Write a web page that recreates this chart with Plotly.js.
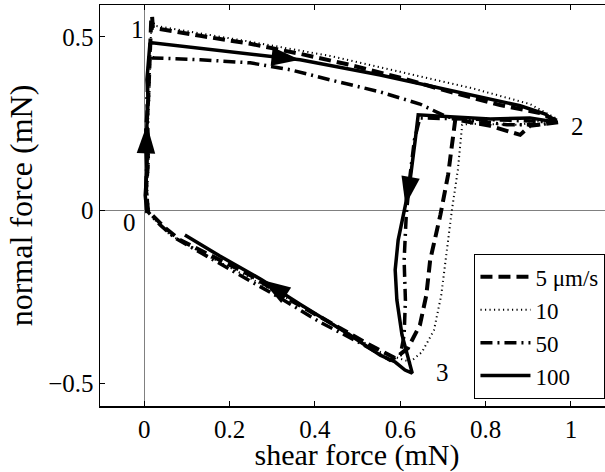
<!DOCTYPE html>
<html>
<head>
<meta charset="utf-8">
<script src="https://cdn.plot.ly/plotly-3.0.1.min.js"></script>
<style>
html,body{margin:0;padding:0;overflow:hidden;background:#fff;}
#plot{width:620px;height:472px;}
</style>
</head>
<body>
<div id="plot"></div>
<script>
// Series names
const seriesNames = ["5 μm/s", "10", "50", "100"];

// 5 um/s (dashed)
const dashX = [0.009,0.004,0.009,0.004,0.009,0.011,0.013,0.016,0.018,0.020,0.131,0.248,0.365,0.482,0.600,0.717,0.834,0.927,0.975,0.904,0.881,0.811,0.729,0.722,0.712,0.694,0.670,0.661,0.646,0.618,0.588,0.529,0.436,0.342,0.248,0.155,0.084,0.049,0.018];
const dashY = [-0.006,0.058,0.145,0.231,0.318,0.405,0.477,0.549,0.561,0.526,0.503,0.480,0.451,0.419,0.382,0.341,0.303,0.280,0.254,0.243,0.217,0.243,0.262,0.202,0.101,-0.014,-0.145,-0.246,-0.332,-0.399,-0.428,-0.390,-0.324,-0.260,-0.188,-0.130,-0.087,-0.052,-0.014];

// 10 um/s (dotted)
const dotX = [0.011,0.007,0.011,0.008,0.012,0.013,0.015,0.018,0.025,0.248,0.435,0.600,0.764,0.904,0.963,0.881,0.764,0.745,0.742,0.735,0.721,0.707,0.696,0.679,0.651,0.623,0.553,0.459,0.365,0.248,0.131,0.060,0.013];
const dotY = [-0.010,0.060,0.150,0.240,0.330,0.420,0.500,0.550,0.532,0.486,0.445,0.399,0.353,0.306,0.266,0.246,0.249,0.246,0.202,0.116,0.0,-0.130,-0.246,-0.347,-0.410,-0.439,-0.410,-0.341,-0.275,-0.197,-0.121,-0.072,-0.014];

// 50 um/s (dash-dot)
const ddX = [0.006,0.004,0.009,0.006,0.011,0.013,0.020,0.131,0.248,0.342,0.435,0.553,0.646,0.709,0.764,0.850,0.927,0.963,0.834,0.646,0.633,0.623,0.614,0.609,0.612,0.609,0.600,0.576,0.506,0.412,0.318,0.225,0.131,0.072,0.037,0.009];
const ddY = [-0.006,0.087,0.202,0.318,0.434,0.460,0.439,0.434,0.425,0.405,0.376,0.341,0.306,0.269,0.260,0.246,0.246,0.254,0.260,0.266,0.202,0.101,-0.014,-0.145,-0.260,-0.361,-0.419,-0.434,-0.384,-0.324,-0.254,-0.188,-0.124,-0.081,-0.043,-0.006];

// 100 um/s (solid)
const solidX = [0.006,0.002,0.006,0.004,0.006,0.009,0.006,0.011,0.013,0.018,0.177,0.365,0.553,0.740,0.881,0.940,0.963,0.904,0.811,0.717,0.642,0.635,0.623,0.612,0.604,0.595,0.588,0.592,0.604,0.618,0.628,0.611,0.588,0.553,0.482,0.365,0.276,0.177,0.095];
const solidY = [-0.009,0.043,0.116,0.173,0.246,0.318,0.376,0.434,0.480,0.483,0.460,0.434,0.390,0.338,0.301,0.277,0.254,0.266,0.263,0.269,0.275,0.202,0.087,0.014,-0.030,-0.087,-0.173,-0.260,-0.361,-0.428,-0.471,-0.462,-0.439,-0.419,-0.361,-0.272,-0.202,-0.133,-0.072];

// indices of solid curve points carrying direction arrows
const arrowIdx = [4, 11, 23, 36];

// point labels
const pointLabels = ["0", "1", "2", "3"];
const pointLabelX = [-0.034, -0.017, 1.015, 0.698];
const pointLabelY = [-0.035, 0.520, 0.240, -0.468];

// ticks
const xTickVals = [0, 0.2, 0.4, 0.6, 0.8, 1];
const xTickText = ["0", "0.2", "0.4", "0.6", "0.8", "1"];
const yTickVals = [-0.5, 0, 0.5];
const yTickText = ["\u22120.5", "0", "0.5"];

const FONT = "Liberation Serif, Times New Roman, serif";

const traces = [
  {x: dashX, y: dashY, name: seriesNames[0], mode: "lines",
   line: {color: "black", width: 4, dash: "12px,6px"}},
  {x: dotX, y: dotY, name: seriesNames[1], mode: "lines",
   line: {color: "black", width: 2, dash: "1.2px,3.3px"}},
  {x: ddX, y: ddY, name: seriesNames[2], mode: "lines",
   line: {color: "black", width: 3.5, dash: "12px,5px,2px,5px"}},
  {x: solidX, y: solidY, name: seriesNames[3], mode: "lines",
   line: {color: "black", width: 3.5}},
  {x: solidX, y: solidY, mode: "markers", showlegend: false, hoverinfo: "skip",
   marker: {symbol: "arrow", angleref: "previous", color: "black", opacity: 1,
            size: solidX.map((_, i) => arrowIdx.includes(i) ? 30 : 0),
            line: {width: 0}}}
];

const annotations = pointLabels.map((t, i) => ({
  x: pointLabelX[i], y: pointLabelY[i], xref: "x", yref: "y",
  text: t, showarrow: false, font: {family: FONT, size: 25, color: "black"}
}));

const layout = {
  width: 620, height: 472,
  margin: {l: 100, r: 6, t: 5, b: 66},
  paper_bgcolor: "white", plot_bgcolor: "white",
  font: {family: FONT, color: "black", size: 25},
  showlegend: true,
  legend: {x: 0.983, y: 0.017, xanchor: "right", yanchor: "bottom",
           bgcolor: "white", bordercolor: "black", borderwidth: 1.2,
           itemwidth: 50,
           font: {family: FONT, size: 23, color: "black"}, tracegroupgap: 0},
  xaxis: {range: [-0.104, 1.101], tickvals: xTickVals, ticktext: xTickText,
          ticks: "inside", ticklen: 5, tickwidth: 1, tickcolor: "black",
          showline: true, linecolor: "black", linewidth: 1.5, mirror: "ticks",
          showgrid: false, zeroline: true, zerolinecolor: "#808080", zerolinewidth: 1,
          tickfont: {family: FONT, size: 25, color: "black"},
          title: {text: "shear force (mN)", font: {family: FONT, size: 30, color: "black"}, standoff: 7}},
  yaxis: {range: [-0.566, 0.592], tickvals: yTickVals, ticktext: yTickText,
          ticks: "inside", ticklen: 5, tickwidth: 1, tickcolor: "black",
          showline: true, linecolor: "black", linewidth: 1.5, mirror: "ticks",
          showgrid: false, zeroline: true, zerolinecolor: "#808080", zerolinewidth: 1,
          tickfont: {family: FONT, size: 25, color: "black"},
          title: {text: "normal force (mN)", font: {family: FONT, size: 32, color: "black"}, standoff: 6}},
  annotations: annotations
};

Plotly.newPlot("plot", traces, layout, {displayModeBar: false, staticPlot: true});
</script>
</body>
</html>
